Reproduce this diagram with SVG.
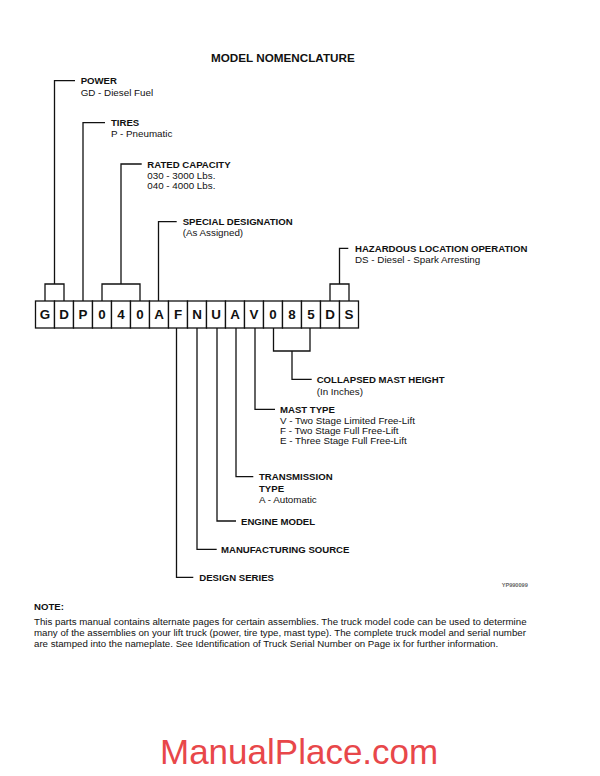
<svg xmlns="http://www.w3.org/2000/svg" width="600" height="776" viewBox="0 0 600 776">
<style>
text{font-family:"Liberation Sans",Arial,Helvetica,sans-serif;fill:#111}
.h{font-weight:bold;font-size:9.6px}
.r{font-size:9.8px}
.n{font-size:9.7px}
.box{fill:#fff;stroke:#111;stroke-width:1.3}
.ch{font-weight:bold;font-size:13.4px;text-anchor:middle}
.c{fill:none;stroke:#111;stroke-width:1.3}
</style>
<rect width="600" height="776" fill="#fff"/>
<g id="title"><text x="211" y="62.4" style="font-weight:bold;font-size:11.7px">MODEL NOMENCLATURE</text></g>
<g id="connectors" class="c">
<path d="M45,301V284H64V301M54.5,284V80.7H75"/>
<path d="M83,301V122.7H105"/>
<path d="M102,301V284H140V301M121,284V164H141.7"/>
<path d="M158.5,301V221.7H176.7"/>
<path d="M330,301V284H349V301M339.5,284V248.3H348.3"/>
<path d="M273.5,328V351H310V328M292,351V379.3H311.7"/>
<path d="M255,328V409.3H275"/>
<path d="M236,328V476.7H253.3"/>
<path d="M217,328V521H236"/>
<path d="M197,328V549.3H216.7"/>
<path d="M176.5,328V577.3H193.3"/>
</g>
<g id="code">
<rect class="box" x="35.5" y="301" width="19" height="27"/>
<rect class="box" x="54.5" y="301" width="19" height="27"/>
<rect class="box" x="73.5" y="301" width="19" height="27"/>
<rect class="box" x="92.5" y="301" width="19" height="27"/>
<rect class="box" x="111.5" y="301" width="19" height="27"/>
<rect class="box" x="130.5" y="301" width="19" height="27"/>
<rect class="box" x="149.5" y="301" width="19" height="27"/>
<rect class="box" x="168.5" y="301" width="19" height="27"/>
<rect class="box" x="187.5" y="301" width="19" height="27"/>
<rect class="box" x="206.5" y="301" width="19" height="27"/>
<rect class="box" x="225.5" y="301" width="19" height="27"/>
<rect class="box" x="244.5" y="301" width="19" height="27"/>
<rect class="box" x="263.5" y="301" width="19" height="27"/>
<rect class="box" x="282.5" y="301" width="19" height="27"/>
<rect class="box" x="301.5" y="301" width="19" height="27"/>
<rect class="box" x="320.5" y="301" width="19" height="27"/>
<rect class="box" x="339.5" y="301" width="19" height="27"/>
<text class="ch" x="45" y="319">G</text>
<text class="ch" x="64" y="319">D</text>
<text class="ch" x="83" y="319">P</text>
<text class="ch" x="102" y="319">0</text>
<text class="ch" x="121" y="319">4</text>
<text class="ch" x="140" y="319">0</text>
<text class="ch" x="159" y="319">A</text>
<text class="ch" x="178" y="319">F</text>
<text class="ch" x="197" y="319">N</text>
<text class="ch" x="216" y="319">U</text>
<text class="ch" x="235" y="319">A</text>
<text class="ch" x="254" y="319">V</text>
<text class="ch" x="273" y="319">0</text>
<text class="ch" x="292" y="319">8</text>
<text class="ch" x="311" y="319">5</text>
<text class="ch" x="330" y="319">D</text>
<text class="ch" x="349" y="319">S</text>
</g>
<g id="power"><text class="h" x="80.7" y="84.2">POWER</text><text class="r" x="80.7" y="95.8">GD - Diesel Fuel</text></g>
<g id="tires"><text class="h" x="111" y="126.2">TIRES</text><text class="r" x="111" y="136.8">P - Pneumatic</text></g>
<g id="rated-capacity"><text class="h" x="147.3" y="167.5">RATED CAPACITY</text><text class="r" x="147.3" y="178.5">030 - 3000 Lbs.</text><text class="r" x="147.3" y="188.5">040 - 4000 Lbs.</text></g>
<g id="special-designation"><text class="h" x="182.7" y="225.2">SPECIAL DESIGNATION</text><text class="r" x="182.7" y="236.2">(As Assigned)</text></g>
<g id="hazardous"><text class="h" x="355" y="251.8">HAZARDOUS LOCATION OPERATION</text><text class="r" x="355" y="262.5">DS - Diesel - Spark Arresting</text></g>
<g id="collapsed-mast-height"><text class="h" x="316.7" y="382.8">COLLAPSED MAST HEIGHT</text><text class="r" x="316.7" y="394.5">(In Inches)</text></g>
<g id="mast-type"><text class="h" x="280" y="412.8">MAST TYPE</text><text class="r" x="280" y="424.2">V - Two Stage Limited Free-Lift</text><text class="r" x="280" y="433.8">F - Two Stage Full Free-Lift</text><text class="r" x="280" y="443.5">E - Three Stage Full Free-Lift</text></g>
<g id="transmission-type"><text class="h" x="259" y="480.2">TRANSMISSION</text><text class="h" x="259" y="491.8">TYPE</text><text class="r" x="259" y="502.8">A - Automatic</text></g>
<g id="engine-model"><text class="h" x="241" y="524.5">ENGINE MODEL</text></g>
<g id="manufacturing-source"><text class="h" x="221" y="552.8">MANUFACTURING SOURCE</text></g>
<g id="design-series"><text class="h" x="199.3" y="580.8">DESIGN SERIES</text></g>
<g id="figure-id"><text x="501.7" y="587.3" style="font-weight:bold;font-size:5.6px;fill:#666">YP990099</text></g>
<g id="note">
<text class="h" x="34" y="610">NOTE:</text>
<text class="n" x="34" y="624.5">This parts manual contains alternate pages for certain assemblies. The truck model code can be used to determine</text>
<text class="n" x="34" y="635.8">many of the assemblies on your lift truck (power, tire type, mast type). The complete truck model and serial number</text>
<text class="n" x="34" y="647.1">are stamped into the nameplate. See Identification of Truck Serial Number on Page ix for further information.</text>
</g>
<g id="watermark"><text x="160" y="764" style="font-size:35px;fill:#e8474a">ManualPlace.com</text></g>
</svg>
